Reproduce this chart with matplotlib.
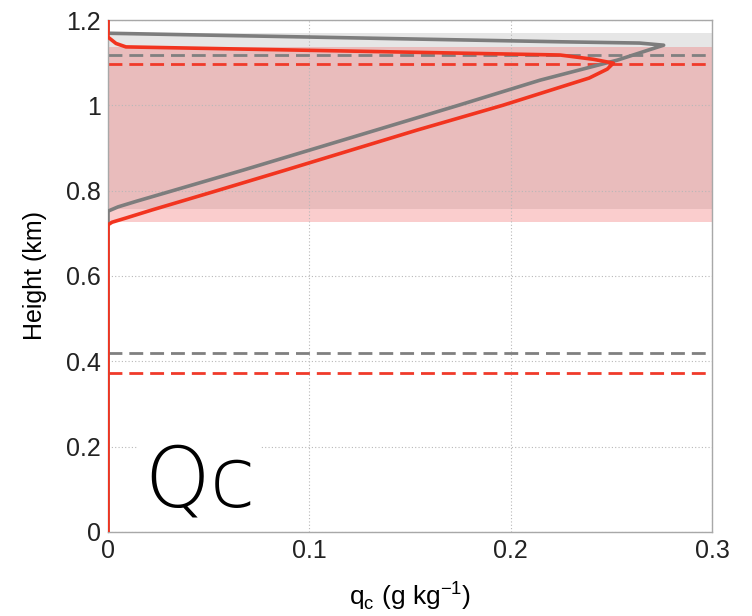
import matplotlib
matplotlib.use("Agg")
import matplotlib.pyplot as plt

# Profiles (height km, qc g/kg)
gray_h = [1.200, 1.169, 1.149, 1.146, 1.141, 1.132, 1.106, 1.059, 1.000, 0.848, 0.797, 0.775, 0.762, 0.752, 0.600, 0.400, 0.200, 0.000]
gray_q = [0.000, 0.000, 0.2245, 0.264, 0.276, 0.270, 0.253, 0.2146, 0.174, 0.067, 0.030, 0.014, 0.005, 0.000, 0.000, 0.000, 0.000, 0.000]
red_h = [1.200, 1.160, 1.145, 1.137, 1.118, 1.108, 1.099, 1.085, 1.064, 1.000, 0.942, 0.848, 0.797, 0.755, 0.736, 0.726, 0.720, 0.600, 0.400, 0.200, 0.000]
red_q = [0.000, 0.000, 0.004, 0.0089, 0.2245, 0.241, 0.251, 0.248, 0.239, 0.196, 0.1535, 0.088, 0.052, 0.022, 0.009, 0.002, 0.000, 0.000, 0.000, 0.000, 0.000]

# Cloud layers (base, top) and dashed reference heights
gray_layer = (0.757, 1.169)
red_layer = (0.727, 1.137)
gray_dash = [1.118, 0.419]
red_dash = [1.098, 0.373]

xticks = [0, 0.1, 0.2, 0.3]
xtick_labels = ["0", "0.1", "0.2", "0.3"]
yticks = [0, 0.2, 0.4, 0.6, 0.8, 1.0, 1.2]
ytick_labels = ["0", "0.2", "0.4", "0.6", "0.8", "1", "1.2"]

plt.rcParams['font.family'] = ['Liberation Sans', 'DejaVu Sans']

fig = plt.figure(figsize=(7.52, 6.16), dpi=100)
ax = fig.add_axes([0.1436, 0.1364, 0.8032, 0.8311])

ax.axhspan(*gray_layer, color='#e6e6e6', lw=0, zorder=0)
ax.axhspan(*red_layer, color='#f06868', alpha=0.33, lw=0, zorder=0.5)

for h in gray_dash:
    ax.axhline(h, color='#808080', lw=2, dashes=(5, 2.5), zorder=2)
for h in red_dash:
    ax.axhline(h, color='#f03a2a', lw=2, dashes=(5, 2.5), zorder=2)

ax.plot(gray_q, gray_h, color='#7d7d7d', lw=2.6, zorder=3, solid_joinstyle='round')
ax.plot(red_q, red_h, color='#f2341f', lw=2.6, zorder=4, solid_joinstyle='round')

ax.set_xlim(0, 0.3)
ax.set_ylim(0, 1.2)
ax.set_xticks(xticks)
ax.set_xticklabels(xtick_labels)
ax.set_yticks(yticks)
ax.set_yticklabels(ytick_labels)
ax.tick_params(labelsize=18, length=0, pad=5, colors='#222222')
ax.grid(True, color='#b8b8b8', linestyle=(0, (1, 2)), lw=0.8)
ax.set_axisbelow(True)
for s in ax.spines.values():
    s.set_color('#a8a8a8')
    s.set_linewidth(1.0)

ax.set_xlabel(r"q$_\mathregular{c}$ (g kg$^\mathregular{-1}$)", fontsize=19, labelpad=12)
ax.set_ylabel("Height (km)", fontsize=18, labelpad=14)

ax.text(0.018, 0.115, "Qc", fontsize=60, color='black', ha='left', va='center',
        family=['DejaVu Sans'], fontweight=200,
        bbox=dict(facecolor='white', edgecolor='none', pad=4), zorder=5)

fig.savefig("out.png", dpi=100)
